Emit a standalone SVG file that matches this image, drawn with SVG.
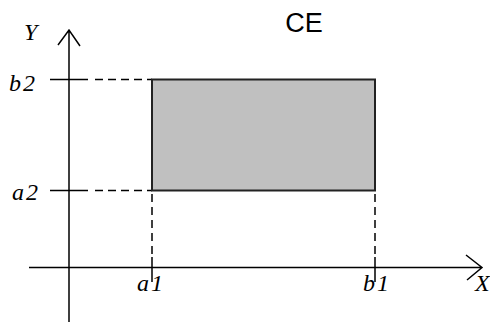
<svg xmlns="http://www.w3.org/2000/svg" width="490" height="322" viewBox="0 0 490 322">
<style>
.ax{stroke:#000;stroke-width:1.5;fill:none}
.dash{stroke:#000;stroke-width:1.5;stroke-dasharray:8,5;fill:none}
.lbl{font-family:"Liberation Serif",serif;font-style:italic;font-size:24px;letter-spacing:2px;fill:#000}
</style>
<rect width="490" height="322" fill="#fff"/>
<g id="connectors">
<path class="ax" d="M69,322 V30 M58,45 L69,30 L80,46"/>
<path class="ax" d="M29,267.5 H482 M466,255 L482,267.5 L467,280"/>
<path class="ax" d="M50,79.5 H88 M50,190.5 H88"/>
<path class="dash" d="M95,79.5 H152 M95,190.5 H152"/>
<path class="dash" d="M152,194 V258 M375,194 V258"/>
<path class="ax" d="M152,257 V282 M375,257 V282"/>
</g>
<g id="rect">
<rect x="152" y="79.5" width="223" height="111" fill="#c0c0c0" stroke="#222" stroke-width="2"/>
</g>
<g id="labels">
<text class="lbl" x="24" y="40">Y</text>
<text class="lbl" x="9" y="91">b2</text>
<text class="lbl" x="12" y="200">a2</text>
<text class="lbl" x="137" y="291">a1</text>
<text class="lbl" x="363" y="291">b1</text>
<text class="lbl" x="475" y="291">X</text>
<text x="304" y="32" font-family="Liberation Sans,Arial,sans-serif" font-size="27" text-anchor="middle" fill="#000">CE</text>
</g>
</svg>
